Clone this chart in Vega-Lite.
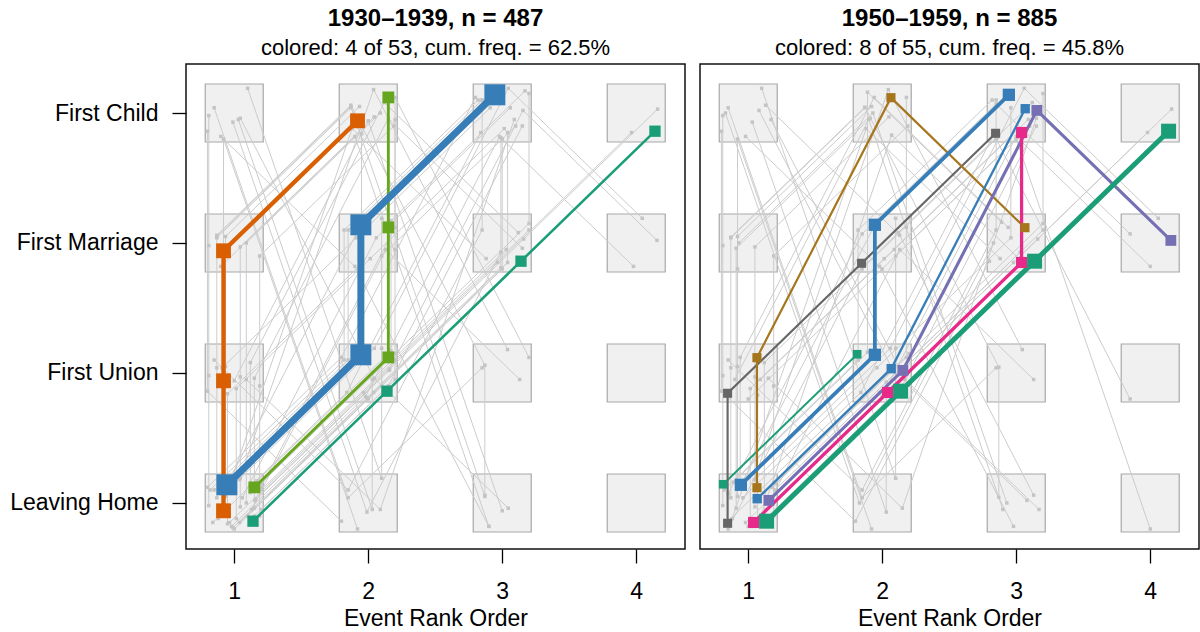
{
  "$schema": "https://vega.github.io/schema/vega-lite/v6.json",
  "background": "white",
  "padding": {"left": 0, "top": 6, "right": 0, "bottom": 0},
  "config": {
    "view": {"stroke": "#111111", "strokeWidth": 1.5},
    "font": "Liberation Sans",
    "axis": {"labelFont": "Liberation Sans", "titleFont": "Liberation Sans", "labelFontSize": 23, "titleFontSize": 23, "titleFontWeight": "normal", "labelColor": "black", "titleColor": "black", "tickColor": "black", "tickSize": 14, "tickWidth": 1.3, "domain": false, "grid": false},
    "title": {"font": "Liberation Sans", "subtitleFont": "Liberation Sans", "fontSize": 24, "subtitleFontSize": 22, "fontWeight": "bold", "color": "black", "subtitleColor": "black", "anchor": "middle", "subtitlePadding": 7, "offset": 5}
  },
  "resolve": {"scale": {"color": "independent", "size": "independent", "strokeWidth": "independent"}},
  "datasets": {
    "boxes": [
      {"x":1,"y":1},{"x":1,"y":2},{"x":1,"y":3},{"x":1,"y":4},
      {"x":2,"y":1},{"x":2,"y":2},{"x":2,"y":3},{"x":2,"y":4},
      {"x":3,"y":1},{"x":3,"y":2},{"x":3,"y":3},{"x":3,"y":4},
      {"x":4,"y":1},{"x":4,"y":2},{"x":4,"y":3},{"x":4,"y":4}
    ],
    "g1": [
      {"s":1,"o":1,"x":0.81,"y":0.98},{"s":1,"o":2,"x":0.81,"y":1.98},{"s":1,"o":3,"x":0.81,"y":2.98},{"s":1,"o":4,"x":0.81,"y":3.98},
      {"s":2,"o":1,"x":0.87,"y":1.04},{"s":2,"o":2,"x":0.87,"y":2.04},{"s":2,"o":3,"x":0.87,"y":3.04},{"s":2,"o":4,"x":1.87,"y":4.04},
      {"s":3,"o":1,"x":0.935,"y":1.05},{"s":3,"o":2,"x":0.935,"y":2.05},{"s":3,"o":3,"x":0.935,"y":3.05},{"s":3,"o":4,"x":1.935,"y":4.05},
      {"s":4,"o":1,"x":1.045,"y":0.97},{"s":4,"o":2,"x":1.045,"y":1.97},{"s":4,"o":3,"x":1.045,"y":2.97},{"s":4,"o":4,"x":2.045,"y":3.97},
      {"s":5,"o":1,"x":1.09,"y":1},{"s":5,"o":2,"x":1.09,"y":3},{"s":5,"o":3,"x":2.09,"y":4},
      {"s":6,"o":1,"x":1.1,"y":0.9},{"s":6,"o":2,"x":2.1,"y":1.9},{"s":6,"o":3,"x":2.1,"y":2.9},{"s":6,"o":4,"x":3.1,"y":3.9},
      {"s":7,"o":1,"x":0.85,"y":1.1},{"s":7,"o":2,"x":1.85,"y":2.1},{"s":7,"o":3,"x":1.85,"y":3.1},{"s":7,"o":4,"x":2.85,"y":4.1},
      {"s":8,"o":1,"x":1,"y":0.8},{"s":8,"o":2,"x":2,"y":1.8},{"s":8,"o":3,"x":3,"y":2.8},{"s":8,"o":4,"x":3,"y":3.8},
      {"s":9,"o":1,"x":1.17,"y":1.17},{"s":9,"o":2,"x":2.17,"y":2.17},{"s":9,"o":3,"x":2.17,"y":3.17},{"s":9,"o":4,"x":3.17,"y":4.17},
      {"s":10,"o":1,"x":0.965,"y":0.85},{"s":10,"o":2,"x":1.965,"y":1.85},{"s":10,"o":3,"x":2.965,"y":2.85},{"s":10,"o":4,"x":3.965,"y":3.85},
      {"s":11,"o":1,"x":1.045,"y":1.19},{"s":11,"o":2,"x":2.045,"y":2.19},{"s":11,"o":3,"x":3.045,"y":4.19},{"s":11,"o":4,"x":4.045,"y":3.19},
      {"s":12,"o":1,"x":0.98,"y":0.82},{"s":12,"o":2,"x":1.98,"y":1.82},{"s":12,"o":3,"x":2.98,"y":3.82},{"s":12,"o":4,"x":3.98,"y":2.82},
      {"s":13,"o":1,"x":1.155,"y":1.02},{"s":13,"o":2,"x":2.155,"y":2.02},{"s":13,"o":3,"x":3.155,"y":4.02},{"s":13,"o":4,"x":4.155,"y":3.02},
      {"s":14,"o":1,"x":1.16,"y":1.03},{"s":14,"o":2,"x":2.16,"y":2.03},{"s":14,"o":3,"x":3.16,"y":3.03},{"s":14,"o":4,"x":4.16,"y":4.03},
      {"s":15,"o":1,"x":0.82,"y":1.1},{"s":15,"o":2,"x":1.82,"y":2.1},{"s":15,"o":3,"x":1.82,"y":3.1},{"s":15,"o":4,"x":2.82,"y":4.1},
      {"s":16,"o":1,"x":1.2,"y":0.95},{"s":16,"o":2,"x":2.2,"y":1.95},{"s":16,"o":3,"x":2.2,"y":2.95},{"s":16,"o":4,"x":2.2,"y":3.95},
      {"s":17,"o":1,"x":1.1,"y":4.19},{"s":17,"o":2,"x":2.1,"y":1.19},{"s":17,"o":3,"x":2.1,"y":2.19},{"s":17,"o":4,"x":2.1,"y":3.19},
      {"s":18,"o":1,"x":0.85,"y":4.04},{"s":18,"o":2,"x":1.85,"y":1.04},{"s":18,"o":3,"x":2.85,"y":2.04},
      {"s":19,"o":1,"x":0.99,"y":3.93},{"s":19,"o":2,"x":1.99,"y":0.93},{"s":19,"o":3,"x":2.99,"y":2.93},
      {"s":20,"o":1,"x":1.03,"y":3.95},{"s":20,"o":2,"x":2.03,"y":0.95},{"s":20,"o":3,"x":2.03,"y":1.95},{"s":20,"o":4,"x":3.03,"y":2.95},
      {"s":21,"o":1,"x":1.045,"y":3.96},{"s":21,"o":2,"x":2.045,"y":1.96},{"s":21,"o":3,"x":3.045,"y":0.96},
      {"s":22,"o":1,"x":0.9,"y":3.82},{"s":22,"o":2,"x":1.9,"y":2.82},{"s":22,"o":3,"x":2.9,"y":0.82},
      {"s":23,"o":1,"x":0.8,"y":3.86},{"s":23,"o":2,"x":0.8,"y":1.86},{"s":23,"o":3,"x":1.8,"y":0.86},
      {"s":24,"o":1,"x":0.85,"y":2.1},{"s":24,"o":2,"x":1.85,"y":1.1},{"s":24,"o":3,"x":2.85,"y":3.1},{"s":24,"o":4,"x":2.85,"y":4.1},
      {"s":25,"o":1,"x":0.91,"y":2.04},{"s":25,"o":2,"x":1.91,"y":3.04},{"s":25,"o":3,"x":2.91,"y":4.04},
      {"s":26,"o":1,"x":1,"y":1.94},{"s":26,"o":2,"x":2,"y":3.94},{"s":26,"o":3,"x":3,"y":0.94},
      {"s":27,"o":1,"x":1.09,"y":1.95},{"s":27,"o":2,"x":2.09,"y":0.95},{"s":27,"o":3,"x":3.09,"y":3.95},
      {"s":28,"o":1,"x":1.15,"y":0.96},{"s":28,"o":2,"x":1.15,"y":1.96},{"s":28,"o":3,"x":2.15,"y":3.96},{"s":28,"o":4,"x":3.15,"y":2.96},
      {"s":29,"o":1,"x":1.15,"y":0.9},{"s":29,"o":2,"x":2.15,"y":1.9},{"s":29,"o":3,"x":3.15,"y":3.9},
      {"s":30,"o":1,"x":0.95,"y":1.15},{"s":30,"o":2,"x":1.95,"y":3.15},{"s":30,"o":3,"x":2.95,"y":4.15},
      {"s":31,"o":1,"x":1.2,"y":1.1},{"s":31,"o":2,"x":2.2,"y":2.1},{"s":31,"o":3,"x":3.2,"y":3.1},
      {"s":32,"o":1,"x":0.87,"y":3.05},{"s":32,"o":2,"x":1.87,"y":4.05},{"s":32,"o":3,"x":2.87,"y":1.05},
      {"s":33,"o":1,"x":0.87,"y":3.06},{"s":33,"o":2,"x":1.87,"y":4.06},{"s":33,"o":3,"x":2.87,"y":2.06},{"s":33,"o":4,"x":2.87,"y":1.06},
      {"s":34,"o":1,"x":0.9,"y":2.82},{"s":34,"o":2,"x":1.9,"y":3.82},{"s":34,"o":3,"x":2.9,"y":0.82},
      {"s":35,"o":1,"x":1.2,"y":1.15},{"s":35,"o":2,"x":2.2,"y":2.15},{"s":35,"o":3,"x":3.2,"y":3.15},{"s":35,"o":4,"x":3.2,"y":4.15},
      {"s":36,"o":1,"x":0.99,"y":0.81},{"s":36,"o":2,"x":1.99,"y":1.81},{"s":36,"o":3,"x":2.99,"y":2.81},{"s":36,"o":4,"x":2.99,"y":3.81},
      {"s":37,"o":1,"x":1.04,"y":0.85},{"s":37,"o":2,"x":2.04,"y":1.85},{"s":37,"o":3,"x":3.04,"y":2.85},{"s":37,"o":4,"x":3.04,"y":3.85},
      {"s":38,"o":1,"x":0.84,"y":0.85},{"s":38,"o":2,"x":1.84,"y":1.85},{"s":38,"o":3,"x":2.84,"y":3.85},
      {"s":39,"o":1,"x":1.06,"y":1.04},{"s":39,"o":2,"x":2.06,"y":3.04},{"s":39,"o":3,"x":3.06,"y":4.04},
      {"s":40,"o":1,"x":0.8,"y":1.12},{"s":40,"o":2,"x":1.8,"y":2.12},{"s":40,"o":3,"x":2.8,"y":4.12},
      {"s":41,"o":1,"x":1.13,"y":0.95},{"s":41,"o":2,"x":2.13,"y":2.95},{"s":41,"o":3,"x":3.13,"y":1.95},
      {"s":42,"o":1,"x":1.04,"y":1.18},{"s":42,"o":2,"x":2.04,"y":4.18},{"s":42,"o":3,"x":3.04,"y":2.18},
      {"s":43,"o":1,"x":1.2,"y":1.12},{"s":43,"o":2,"x":2.2,"y":3.12},{"s":43,"o":3,"x":2.2,"y":4.12},{"s":43,"o":4,"x":3.2,"y":2.12},
      {"s":44,"o":1,"x":0.95,"y":0.84},{"s":44,"o":2,"x":0.95,"y":1.84},{"s":44,"o":3,"x":1.95,"y":2.84},{"s":44,"o":4,"x":1.95,"y":3.84},
      {"s":45,"o":1,"x":1.12,"y":1.08},{"s":45,"o":2,"x":1.12,"y":2.08},{"s":45,"o":3,"x":2.12,"y":4.08},{"s":45,"o":4,"x":3.12,"y":3.08},
      {"s":46,"o":1,"x":0.88,"y":0.88},{"s":46,"o":2,"x":1.88,"y":3.88},{"s":46,"o":3,"x":2.88,"y":2.88},
      {"s":47,"o":1,"x":1.19,"y":0.9},{"s":47,"o":2,"x":1.19,"y":1.9},{"s":47,"o":3,"x":1.19,"y":2.9},{"s":47,"o":4,"x":2.19,"y":3.9},
      {"s":48,"o":1,"x":1.015,"y":0.88},{"s":48,"o":2,"x":1.015,"y":1.88},{"s":48,"o":3,"x":2.015,"y":2.88},{"s":48,"o":4,"x":3.015,"y":3.88},
      {"s":49,"o":1,"x":0.92,"y":2.8},{"s":49,"o":2,"x":0.92,"y":3.8},{"s":49,"o":3,"x":1.92,"y":0.8}
    ],
    "g2": [
      {"s":1,"o":1,"x":0.81,"y":0.98},{"s":1,"o":2,"x":0.81,"y":1.98},{"s":1,"o":3,"x":0.81,"y":2.98},{"s":1,"o":4,"x":0.81,"y":3.98},
      {"s":2,"o":1,"x":0.87,"y":1.04},{"s":2,"o":2,"x":0.87,"y":2.04},{"s":2,"o":3,"x":0.87,"y":3.04},{"s":2,"o":4,"x":1.87,"y":4.04},
      {"s":3,"o":1,"x":0.92,"y":1.05},{"s":3,"o":2,"x":0.92,"y":2.05},{"s":3,"o":3,"x":0.92,"y":3.05},{"s":3,"o":4,"x":1.92,"y":4.05},
      {"s":4,"o":1,"x":1.05,"y":0.97},{"s":4,"o":2,"x":1.05,"y":1.97},{"s":4,"o":3,"x":1.05,"y":2.97},{"s":4,"o":4,"x":2.05,"y":3.97},
      {"s":5,"o":1,"x":0.91,"y":0.96},{"s":5,"o":2,"x":0.91,"y":2.96},{"s":5,"o":3,"x":1.91,"y":3.96},
      {"s":6,"o":1,"x":1.1,"y":4.19},{"s":6,"o":2,"x":2.1,"y":1.19},{"s":6,"o":3,"x":2.1,"y":2.19},{"s":6,"o":4,"x":2.1,"y":3.19},
      {"s":7,"o":1,"x":0.85,"y":4.04},{"s":7,"o":2,"x":1.85,"y":1.04},{"s":7,"o":3,"x":2.85,"y":2.04},
      {"s":8,"o":1,"x":0.83,"y":4},{"s":8,"o":2,"x":1.83,"y":1},{"s":8,"o":3,"x":2.83,"y":3},
      {"s":9,"o":1,"x":1.17,"y":3.95},{"s":9,"o":2,"x":2.17,"y":1.95},{"s":9,"o":3,"x":3.17,"y":0.95},
      {"s":10,"o":1,"x":0.8,"y":3.86},{"s":10,"o":2,"x":0.8,"y":1.86},{"s":10,"o":3,"x":1.8,"y":0.86},{"s":10,"o":4,"x":2.8,"y":2.86},
      {"s":11,"o":1,"x":0.98,"y":3.82},{"s":11,"o":2,"x":1.98,"y":2.82},{"s":11,"o":3,"x":2.98,"y":0.82},
      {"s":12,"o":1,"x":1.03,"y":3.93},{"s":12,"o":2,"x":2.03,"y":0.93},{"s":12,"o":3,"x":2.03,"y":1.93},{"s":12,"o":4,"x":3.03,"y":2.93},
      {"s":13,"o":1,"x":1.08,"y":4.02},{"s":13,"o":2,"x":2.08,"y":2.02},{"s":13,"o":3,"x":3.08,"y":1.02},
      {"s":14,"o":1,"x":0.82,"y":1.1},{"s":14,"o":2,"x":1.82,"y":2.1},{"s":14,"o":3,"x":1.82,"y":3.1},{"s":14,"o":4,"x":2.82,"y":4.1},
      {"s":15,"o":1,"x":1.1,"y":0.9},{"s":15,"o":2,"x":2.1,"y":1.9},{"s":15,"o":3,"x":2.1,"y":2.9},{"s":15,"o":4,"x":3.1,"y":3.9},
      {"s":16,"o":1,"x":1.18,"y":1.12},{"s":16,"o":2,"x":2.18,"y":2.12},{"s":16,"o":3,"x":2.18,"y":3.12},{"s":16,"o":4,"x":2.18,"y":4.12},
      {"s":17,"o":1,"x":0.96,"y":1.04},{"s":17,"o":2,"x":1.96,"y":2.04},{"s":17,"o":3,"x":2.96,"y":3.04},{"s":17,"o":4,"x":2.96,"y":4.04},
      {"s":18,"o":1,"x":1.2,"y":1.15},{"s":18,"o":2,"x":2.2,"y":2.15},{"s":18,"o":3,"x":3.2,"y":3.15},{"s":18,"o":4,"x":3.2,"y":4.15},
      {"s":19,"o":1,"x":1.04,"y":0.85},{"s":19,"o":2,"x":2.04,"y":1.85},{"s":19,"o":3,"x":3.04,"y":2.85},{"s":19,"o":4,"x":3.04,"y":3.85},
      {"s":20,"o":1,"x":0.98,"y":0.85},{"s":20,"o":2,"x":1.98,"y":1.85},{"s":20,"o":3,"x":2.98,"y":2.85},{"s":20,"o":4,"x":3.98,"y":3.85},
      {"s":21,"o":1,"x":1.16,"y":1.03},{"s":21,"o":2,"x":2.16,"y":2.03},{"s":21,"o":3,"x":3.16,"y":3.03},{"s":21,"o":4,"x":4.16,"y":4.03},
      {"s":22,"o":1,"x":1.06,"y":1.19},{"s":22,"o":2,"x":2.06,"y":2.19},{"s":22,"o":3,"x":3.06,"y":4.19},{"s":22,"o":4,"x":4.06,"y":3.19},
      {"s":23,"o":1,"x":0.85,"y":1.07},{"s":23,"o":2,"x":1.85,"y":3.07},{"s":23,"o":3,"x":2.85,"y":4.07},{"s":23,"o":4,"x":3.85,"y":3.07},
      {"s":24,"o":1,"x":1,"y":0.82},{"s":24,"o":2,"x":2,"y":1.82},{"s":24,"o":3,"x":3,"y":3.82},{"s":24,"o":4,"x":4,"y":2.82},
      {"s":25,"o":1,"x":0.87,"y":3.045},{"s":25,"o":2,"x":1.87,"y":4.045},{"s":25,"o":3,"x":2.87,"y":2.045},{"s":25,"o":4,"x":2.87,"y":1.045},
      {"s":26,"o":1,"x":0.9,"y":1.95},{"s":26,"o":2,"x":1.9,"y":3.95},{"s":26,"o":3,"x":2.9,"y":0.95},
      {"s":27,"o":1,"x":0.93,"y":3},{"s":27,"o":2,"x":1.93,"y":4},{"s":27,"o":3,"x":2.93,"y":1},
      {"s":28,"o":1,"x":1,"y":1.8},{"s":28,"o":2,"x":2,"y":2.8},{"s":28,"o":3,"x":3,"y":3.8},{"s":28,"o":4,"x":4,"y":0.8},
      {"s":29,"o":1,"x":0.85,"y":0.8},{"s":29,"o":2,"x":1.85,"y":2.8},{"s":29,"o":3,"x":2.85,"y":3.8},{"s":29,"o":4,"x":3.85,"y":1.8},
      {"s":30,"o":1,"x":0.85,"y":2.1},{"s":30,"o":2,"x":1.85,"y":1.1},{"s":30,"o":3,"x":2.85,"y":3.1},{"s":30,"o":4,"x":2.85,"y":4.1},
      {"s":31,"o":1,"x":1.15,"y":1.96},{"s":31,"o":2,"x":2.15,"y":0.96},{"s":31,"o":3,"x":3.15,"y":3.96},
      {"s":32,"o":1,"x":1.09,"y":1.95},{"s":32,"o":2,"x":2.09,"y":2.95},{"s":32,"o":3,"x":3.09,"y":3.95},
      {"s":33,"o":1,"x":1.2,"y":1.1},{"s":33,"o":2,"x":2.2,"y":2.1},{"s":33,"o":3,"x":3.2,"y":3.1},
      {"s":34,"o":1,"x":0.95,"y":1.15},{"s":34,"o":2,"x":1.95,"y":3.15},{"s":34,"o":3,"x":2.95,"y":4.15},
      {"s":35,"o":1,"x":1.13,"y":0.95},{"s":35,"o":2,"x":2.13,"y":2.95},{"s":35,"o":3,"x":3.13,"y":1.95},
      {"s":36,"o":1,"x":1.045,"y":1.18},{"s":36,"o":2,"x":2.045,"y":4.18},{"s":36,"o":3,"x":3.045,"y":2.18},
      {"s":37,"o":1,"x":0.84,"y":0.85},{"s":37,"o":2,"x":1.84,"y":1.85},{"s":37,"o":3,"x":2.84,"y":3.85},
      {"s":38,"o":1,"x":1.15,"y":0.9},{"s":38,"o":2,"x":2.15,"y":1.9},{"s":38,"o":3,"x":3.15,"y":3.9},
      {"s":39,"o":1,"x":0.94,"y":1.12},{"s":39,"o":2,"x":0.94,"y":2.12},{"s":39,"o":3,"x":1.94,"y":4.12},{"s":39,"o":4,"x":2.94,"y":3.12},
      {"s":40,"o":1,"x":1.12,"y":1.08},{"s":40,"o":2,"x":1.12,"y":2.08},{"s":40,"o":3,"x":2.12,"y":3.08},{"s":40,"o":4,"x":3.12,"y":4.08},
      {"s":41,"o":1,"x":0.88,"y":0.88},{"s":41,"o":2,"x":1.88,"y":3.88},{"s":41,"o":3,"x":2.88,"y":2.88},
      {"s":42,"o":1,"x":1.19,"y":0.9},{"s":42,"o":2,"x":1.19,"y":1.9},{"s":42,"o":3,"x":1.19,"y":2.9},{"s":42,"o":4,"x":2.19,"y":3.9},
      {"s":43,"o":1,"x":1.015,"y":0.88},{"s":43,"o":2,"x":1.015,"y":1.88},{"s":43,"o":3,"x":2.015,"y":2.88},{"s":43,"o":4,"x":3.015,"y":3.88},
      {"s":44,"o":1,"x":0.92,"y":2.8},{"s":44,"o":2,"x":0.92,"y":3.8},{"s":44,"o":3,"x":1.92,"y":0.8},
      {"s":45,"o":1,"x":1.13,"y":4.06},{"s":45,"o":2,"x":2.13,"y":3.06},{"s":45,"o":3,"x":3.13,"y":1.06},
      {"s":46,"o":1,"x":0.89,"y":1.16},{"s":46,"o":2,"x":1.89,"y":2.16},{"s":46,"o":3,"x":1.89,"y":4.16},{"s":46,"o":4,"x":2.89,"y":3.16},
      {"s":47,"o":1,"x":1.07,"y":1.83},{"s":47,"o":2,"x":1.07,"y":0.83},{"s":47,"o":3,"x":2.07,"y":3.83},{"s":47,"o":4,"x":3.07,"y":2.83}
    ],
    "c1": [
      {"s":"t1","f":24,"o":1,"x":1.14,"y":0.86},{"s":"t1","f":24,"o":2,"x":2.14,"y":1.86},{"s":"t1","f":24,"o":3,"x":3.14,"y":2.86},{"s":"t1","f":24,"o":4,"x":4.14,"y":3.86},
      {"s":"l1","f":30,"o":1,"x":1.15,"y":1.12},{"s":"l1","f":30,"o":2,"x":2.15,"y":2.12},{"s":"l1","f":30,"o":3,"x":2.15,"y":3.12},{"s":"l1","f":30,"o":4,"x":2.15,"y":4.12},
      {"s":"o1","f":70,"o":1,"x":0.92,"y":0.94},{"s":"o1","f":70,"o":2,"x":0.92,"y":1.94},{"s":"o1","f":70,"o":3,"x":0.92,"y":2.94},{"s":"o1","f":70,"o":4,"x":1.92,"y":3.94},
      {"s":"b1","f":180,"o":1,"x":0.945,"y":1.14},{"s":"b1","f":180,"o":2,"x":1.945,"y":2.14},{"s":"b1","f":180,"o":3,"x":1.945,"y":3.14},{"s":"b1","f":180,"o":4,"x":2.945,"y":4.14}
    ],
    "c2": [
      {"s":"ts","f":18,"o":1,"x":0.813,"y":1.144},{"s":"ts","f":18,"o":2,"x":1.813,"y":2.144},
      {"s":"gy","f":24,"o":1,"x":0.846,"y":0.844},{"s":"gy","f":24,"o":2,"x":0.846,"y":1.844},{"s":"gy","f":24,"o":3,"x":1.846,"y":2.844},{"s":"gy","f":24,"o":4,"x":2.846,"y":3.844},
      {"s":"br","f":25,"o":1,"x":1.065,"y":1.118},{"s":"br","f":25,"o":2,"x":1.065,"y":2.118},{"s":"br","f":25,"o":3,"x":2.065,"y":4.118},{"s":"br","f":25,"o":4,"x":3.065,"y":3.118},
      {"s":"bs","f":28,"o":1,"x":1.067,"y":1.033},{"s":"bs","f":28,"o":2,"x":2.067,"y":2.033},{"s":"bs","f":28,"o":3,"x":3.067,"y":4.033},
      {"s":"pu","f":50,"o":1,"x":1.154,"y":1.02},{"s":"pu","f":50,"o":2,"x":2.154,"y":2.02},{"s":"pu","f":50,"o":3,"x":3.154,"y":4.02},{"s":"pu","f":50,"o":4,"x":4.154,"y":3.02},
      {"s":"pk","f":55,"o":1,"x":1.04,"y":0.85},{"s":"pk","f":55,"o":2,"x":2.04,"y":1.85},{"s":"pk","f":55,"o":3,"x":3.04,"y":2.85},{"s":"pk","f":55,"o":4,"x":3.04,"y":3.85},
      {"s":"bl","f":75,"o":1,"x":0.945,"y":1.14},{"s":"bl","f":75,"o":2,"x":1.945,"y":2.14},{"s":"bl","f":75,"o":3,"x":1.945,"y":3.14},{"s":"bl","f":75,"o":4,"x":2.945,"y":4.14},
      {"s":"tb","f":130,"o":1,"x":1.137,"y":0.86},{"s":"tb","f":130,"o":2,"x":2.137,"y":1.86},{"s":"tb","f":130,"o":3,"x":3.137,"y":2.86},{"s":"tb","f":130,"o":4,"x":4.137,"y":3.86}
    ]
  },
  "hconcat": [
    {
      "width": 499,
      "height": 485,
      "title": {"text": "1930–1939, n = 487", "subtitle": "colored: 4 of 53, cum. freq. = 62.5%"},
      "encoding": {
        "x": {"field": "x", "type": "quantitative", "scale": {"domain": [0.64, 4.364], "nice": false, "zero": false}, "axis": {"values": [1, 2, 3, 4], "format": "d", "title": "Event Rank Order", "labelPadding": 17, "titlePadding": 4}},
        "y": {"field": "y", "type": "quantitative", "scale": {"domain": [0.646, 4.377], "nice": false, "zero": false}, "axis": {"values": [1, 2, 3, 4], "title": null, "labelPadding": 14, "minExtent": 185, "maxExtent": 185, "labelExpr": "datum.value == 1 ? 'Leaving Home' : datum.value == 2 ? 'First Union' : datum.value == 3 ? 'First Marriage' : 'First Child'"}}
      },
      "layer": [
        {"data": {"name": "boxes"}, "mark": {"type": "point", "shape": "square", "size": 3364, "fill": "#f0f0f0", "stroke": "#a8a8a8", "strokeWidth": 1.2, "fillOpacity": 1, "strokeOpacity": 1}},
        {"data": {"name": "g1"}, "mark": {"type": "line", "color": "#cccccc", "strokeWidth": 1}, "encoding": {"detail": {"field": "s", "type": "nominal"}, "order": {"field": "o", "type": "quantitative"}}},
        {"data": {"name": "g1"}, "mark": {"type": "square", "size": 12, "color": "#c4c4c4", "opacity": 1}},
        {"data": {"name": "c1"}, "mark": {"type": "line"}, "encoding": {
          "detail": {"field": "s", "type": "nominal"},
          "order": {"field": "o", "type": "quantitative"},
          "color": {"field": "s", "type": "nominal", "scale": {"domain": ["t1", "l1", "o1", "b1"], "range": ["#1B9E77", "#66A61E", "#D95F02", "#377EB8"]}, "legend": null},
          "strokeWidth": {"field": "f", "type": "quantitative", "scale": {"type": "sqrt", "domain": [0, 180], "range": [0, 7]}, "legend": null}}},
        {"data": {"name": "c1"}, "mark": {"type": "square", "opacity": 1}, "encoding": {
          "color": {"field": "s", "type": "nominal", "scale": {"domain": ["t1", "l1", "o1", "b1"], "range": ["#1B9E77", "#66A61E", "#D95F02", "#377EB8"]}, "legend": null},
          "size": {"field": "f", "type": "quantitative", "scale": {"domain": [0, 180], "range": [80, 441]}, "legend": null}}}
      ]
    },
    {
      "width": 499,
      "height": 485,
      "title": {"text": "1950–1959, n = 885", "subtitle": "colored: 8 of 55, cum. freq. = 45.8%"},
      "encoding": {
        "x": {"field": "x", "type": "quantitative", "scale": {"domain": [0.64, 4.364], "nice": false, "zero": false}, "axis": {"values": [1, 2, 3, 4], "format": "d", "title": "Event Rank Order", "labelPadding": 17, "titlePadding": 4}},
        "y": {"field": "y", "type": "quantitative", "scale": {"domain": [0.646, 4.377], "nice": false, "zero": false}, "axis": null}
      },
      "layer": [
        {"data": {"name": "boxes"}, "mark": {"type": "point", "shape": "square", "size": 3364, "fill": "#f0f0f0", "stroke": "#a8a8a8", "strokeWidth": 1.2, "fillOpacity": 1, "strokeOpacity": 1}},
        {"data": {"name": "g2"}, "mark": {"type": "line", "color": "#cccccc", "strokeWidth": 1}, "encoding": {"detail": {"field": "s", "type": "nominal"}, "order": {"field": "o", "type": "quantitative"}}},
        {"data": {"name": "g2"}, "mark": {"type": "square", "size": 12, "color": "#c4c4c4", "opacity": 1}},
        {"data": {"name": "c2"}, "mark": {"type": "line"}, "encoding": {
          "detail": {"field": "s", "type": "nominal"},
          "order": {"field": "o", "type": "quantitative"},
          "color": {"field": "s", "type": "nominal", "scale": {"domain": ["ts", "gy", "br", "bs", "pu", "pk", "bl", "tb"], "range": ["#1B9E77", "#666666", "#A6761D", "#377EB8", "#7570B3", "#E7298A", "#377EB8", "#1B9E77"]}, "legend": null},
          "strokeWidth": {"field": "f", "type": "quantitative", "scale": {"type": "sqrt", "domain": [0, 130], "range": [0, 5]}, "legend": null}}},
        {"data": {"name": "c2"}, "mark": {"type": "square", "opacity": 1}, "encoding": {
          "color": {"field": "s", "type": "nominal", "scale": {"domain": ["ts", "gy", "br", "bs", "pu", "pk", "bl", "tb"], "range": ["#1B9E77", "#666666", "#A6761D", "#377EB8", "#7570B3", "#E7298A", "#377EB8", "#1B9E77"]}, "legend": null},
          "size": {"field": "f", "type": "quantitative", "scale": {"domain": [0, 130], "range": [50, 225]}, "legend": null}}}
      ]
    }
  ],
  "spacing": 13
}
